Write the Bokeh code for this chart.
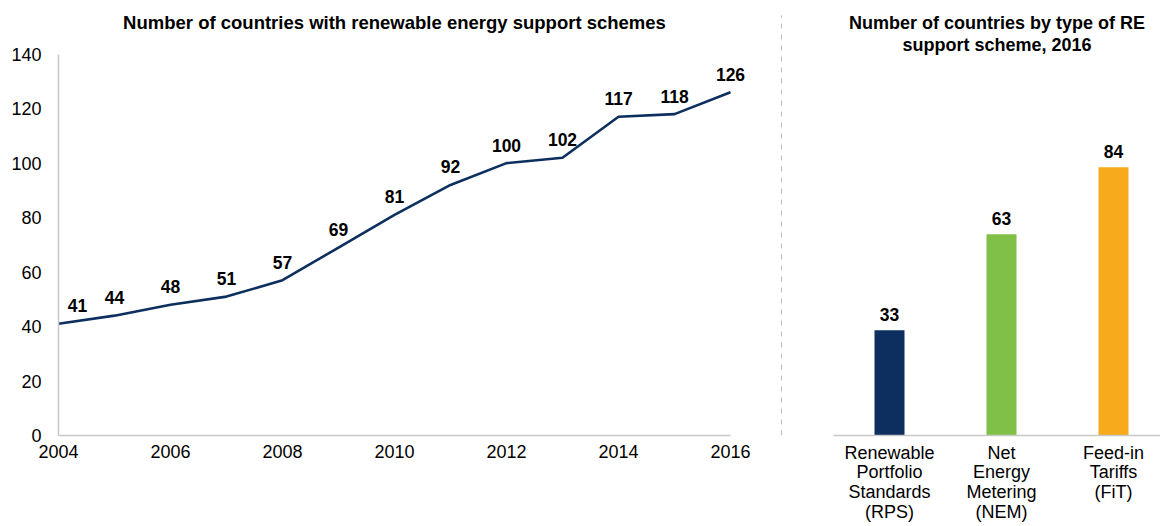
from bokeh.plotting import figure
from bokeh.models import Range1d, FixedTicker, ColumnDataSource
from bokeh.layouts import row
from bokeh.core.properties import value
from bokeh.embed import file_html
from bokeh.resources import INLINE

# ---- data ----
years = [2004, 2005, 2006, 2007, 2008, 2009, 2010, 2011, 2012, 2013, 2014, 2015, 2016]
countries = [41, 44, 48, 51, 57, 69, 81, 92, 100, 102, 117, 118, 126]
year_ticks = [2004, 2006, 2008, 2010, 2012, 2014, 2016]
count_ticks = [0, 20, 40, 60, 80, 100, 120, 140]

scheme_labels = ["Renewable\nPortfolio\nStandards\n(RPS)",
                 "Net\nEnergy\nMetering\n(NEM)",
                 "Feed-in\nTariffs\n(FiT)"]
scheme_counts = [33, 63, 84]

title_left = "Number of countries with renewable energy support schemes"
title_right = ["Number of countries by type of RE", "support scheme, 2016"]

# ---- styles / geometry ----
FONT = "Liberation Sans"
NAVY = "#0d2f5f"
GREEN = "#80c046"
ORANGE = "#f6aa1c"
AXIS_GRAY = "#c8c8c8"
bar_colors = [NAVY, GREEN, ORANGE]

H = 524
FRAME_H = 436            # frames run from the top of the canvas down to the baseline
BOTTOM = H - FRAME_H
PX_L = 2.73              # px per country, left chart
PX_R = 3.2               # px per country, right chart
PX_YEAR = 56             # px per year


def style_axis(ax, standoff):
    ax.axis_line_color = AXIS_GRAY
    ax.axis_line_width = 1.5
    ax.major_tick_line_color = None
    ax.minor_tick_line_color = None
    ax.major_tick_out = 0
    ax.major_tick_in = 0
    ax.major_label_text_font = FONT
    ax.major_label_text_font_size = "18px"
    ax.major_label_text_color = "#000000"
    ax.major_label_standoff = standoff


def title_text(p, x, y, lines, size):
    p.text(x=[x] * len(lines), y=y, text=lines,
           text_align="center", text_baseline="middle",
           text_font=value(FONT), text_font_size=size, text_font_style="bold",
           text_color="#000000")


# ---- left: line chart ----
W1 = 772
left_border = 58
x_end = years[-1] + (W1 - left_border - (years[-1] - years[0]) * PX_YEAR) / PX_YEAR
y_end_l = FRAME_H / PX_L
p1 = figure(width=W1, height=H,
            x_range=Range1d(years[0], x_end), y_range=Range1d(0, y_end_l),
            output_backend="svg", toolbar_location=None,
            min_border_left=left_border, min_border_right=0,
            min_border_top=0, min_border_bottom=BOTTOM)
p1.outline_line_color = None
p1.grid.visible = False
p1.xaxis.ticker = FixedTicker(ticks=year_ticks)
p1.yaxis.ticker = FixedTicker(ticks=count_ticks)
p1.xaxis.bounds = (years[0], years[-1])
p1.yaxis.bounds = (count_ticks[0], count_ticks[-1])
style_axis(p1.xaxis[0], 9)
style_axis(p1.yaxis[0], 17)

src1 = ColumnDataSource(dict(
    x=years, y=countries, label=[str(v) for v in countries],
    xoff=[19 if i == 0 else 0 for i in range(len(years))]))
p1.line("x", "y", source=src1, line_color=NAVY, line_width=2.6)
p1.text("x", "y", text="label", source=src1, x_offset="xoff", y_offset=-18,
        text_align="center", text_baseline="middle",
        text_font=value(FONT), text_font_size="17.5px", text_font_style="bold",
        text_color="#000000")
title_text(p1, (years[0] + years[-1]) / 2, [(FRAME_H - 22) / PX_L], [title_left], "18.5px")

# ---- separator ----
W3 = 18
p3 = figure(width=W3, height=H, x_range=Range1d(0, 1), y_range=Range1d(0, FRAME_H),
            output_backend="svg", toolbar_location=None,
            x_axis_location=None, y_axis_location=None,
            min_border_left=0, min_border_right=0,
            min_border_top=0, min_border_bottom=BOTTOM)
p3.outline_line_color = None
p3.grid.visible = False
p3.segment(x0=[0.5], y0=[0], x1=[0.5], y1=[FRAME_H - 15],
           line_color="#bdbdbd", line_width=1, line_dash="5 6")

# ---- right: bar chart ----
W2 = 370
xs = list(range(len(scheme_counts)))
rb_left = 43
first_c = 56            # px from frame left to first bar centre
step = 112              # px between bar centres
x0_r = -first_c / step
x1_r = x0_r + (W2 - rb_left) / step
y_end_r = FRAME_H / PX_R
p2 = figure(width=W2, height=H,
            x_range=Range1d(x0_r, x1_r), y_range=Range1d(0, y_end_r),
            output_backend="svg", toolbar_location=None,
            y_axis_location=None,
            min_border_left=rb_left, min_border_right=0,
            min_border_top=0, min_border_bottom=BOTTOM)
p2.outline_line_color = None
p2.grid.visible = False
p2.xaxis.ticker = FixedTicker(ticks=xs)
p2.xaxis.major_label_overrides = {i: lab for i, lab in enumerate(scheme_labels)}
style_axis(p2.xaxis[0], 7)
p2.xaxis.major_label_text_line_height = 0.99

src2 = ColumnDataSource(dict(x=xs, top=scheme_counts, color=bar_colors,
                             label=[str(v) for v in scheme_counts]))
p2.vbar(x="x", top="top", bottom=0, width=30 / step, source=src2,
        fill_color="color", line_color=None)
p2.text("x", "top", text="label", source=src2, y_offset=-16,
        text_align="center", text_baseline="middle",
        text_font=value(FONT), text_font_size="17.5px", text_font_style="bold",
        text_color="#000000")
title_text(p2, (x0_r + x1_r) / 2,
           [(FRAME_H - 23) / PX_R, (FRAME_H - 45) / PX_R], title_right, "18px")

layout = row(p1, p3, p2)
open("out.html", "w").write(file_html(layout, INLINE))
